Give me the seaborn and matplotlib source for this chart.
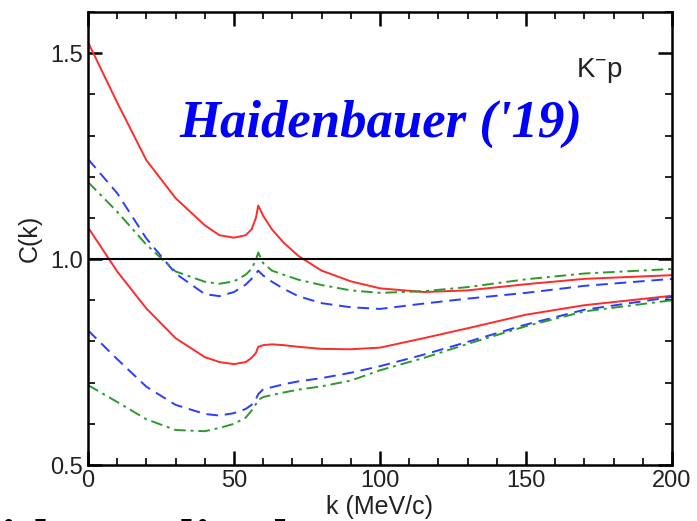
import matplotlib
matplotlib.use("Agg")
import matplotlib.pyplot as plt
import seaborn as sns
import pandas as pd
from matplotlib.ticker import MultipleLocator

sns.set_theme(style="white")
plt.rcParams['font.family'] = ['Liberation Sans', 'DejaVu Sans']
plt.rcParams['mathtext.default'] = 'regular'

k = [0, 10, 20, 30, 40, 45, 50, 54, 56, 57.5, 58.3, 60, 63, 67, 72, 80, 90, 100, 115, 130, 150, 170, 200]

upper_red = [1.527, 1.38, 1.24, 1.148, 1.082, 1.058, 1.052, 1.058, 1.072, 1.10, 1.13, 1.105, 1.072, 1.04, 1.008,
             0.972, 0.946, 0.929, 0.920, 0.924, 0.939, 0.952, 0.961]
upper_blue = [1.243, 1.16, 1.05, 0.965, 0.915, 0.910, 0.92, 0.938, 0.952, 0.965, 0.972, 0.96, 0.945, 0.928, 0.91,
              0.893, 0.883, 0.879, 0.892, 0.904, 0.918, 0.935, 0.952]
upper_green = [1.187, 1.115, 1.035, 0.97, 0.945, 0.940, 0.946, 0.962, 0.976, 0.998, 1.016, 0.99, 0.972, 0.962, 0.950,
               0.937, 0.924, 0.918, 0.922, 0.932, 0.951, 0.965, 0.976]
lower_red = [1.077, 0.97, 0.88, 0.808, 0.762, 0.750, 0.745, 0.750, 0.760, 0.772, 0.787, 0.791, 0.793, 0.791, 0.787,
             0.782, 0.781, 0.785, 0.808, 0.832, 0.865, 0.888, 0.911]
lower_blue = [0.827, 0.757, 0.69, 0.646, 0.624, 0.620, 0.626, 0.636, 0.646, 0.66, 0.672, 0.684, 0.689, 0.696, 0.703,
              0.711, 0.724, 0.740, 0.768, 0.799, 0.841, 0.877, 0.908]
lower_green = [0.694, 0.653, 0.611, 0.585, 0.582, 0.590, 0.600, 0.615, 0.632, 0.648, 0.658, 0.665, 0.670, 0.676, 0.683,
               0.691, 0.705, 0.730, 0.760, 0.794, 0.837, 0.873, 0.900]

RED = '#ff2a2a'
BLUE = '#2a3cff'
GREEN = '#2a9a2a'

series = [
    (upper_red, RED, '-'),
    (upper_blue, BLUE, (0, (6, 3.5))),
    (upper_green, GREEN, (0, (6, 2.5, 1.5, 2.5))),
    (lower_red, RED, '-'),
    (lower_blue, BLUE, (0, (6, 3.5))),
    (lower_green, GREEN, (0, (6, 2.5, 1.5, 2.5))),
]

fig = plt.figure(figsize=(6.97, 5.21), dpi=100)
ax = fig.add_axes([88 / 697, 56 / 521, (672 - 88) / 697, (465 - 12) / 521])

for ys, col, ls in series:
    df = pd.DataFrame({'k': k, 'C': ys})
    sns.lineplot(data=df, x='k', y='C', ax=ax, color=col, linewidth=1.4, linestyle=ls)

ax.axhline(1.0, color='black', linewidth=1.5)

ax.set_xlim(0, 200)
ax.set_ylim(0.5, 1.6)
ax.xaxis.set_major_locator(MultipleLocator(50))
ax.xaxis.set_minor_locator(MultipleLocator(10))
ax.yaxis.set_major_locator(MultipleLocator(0.5))
ax.yaxis.set_minor_locator(MultipleLocator(0.1))
ax.tick_params(which='both', direction='in', top=True, right=True, bottom=True, left=True,
               color='black', labelsize=17, labelcolor='#222222')
ax.tick_params(which='major', length=10, width=1.8)
ax.tick_params(which='minor', length=5, width=1.2)
ax.set_xticks([0, 50, 100, 150, 200])
ax.set_xticklabels(['0', '50', '100', '150', '200'])
ax.set_yticks([0.5, 1.0, 1.5])
ax.set_yticklabels(['0.5', '1.0', '1.5'])
for s in ax.spines.values():
    s.set_color('black')
    s.set_linewidth(1.8)

ax.set_xlabel('k (MeV/c)', fontsize=18, color='#222222', labelpad=2)
ax.set_ylabel('C(k)', fontsize=18, color='#222222', labelpad=6)

ax.text(600 / 697, (521 - 77) / 521, 'K$^{-}$p', transform=fig.transFigure, fontsize=20,
        color='#222222', ha='center', va='baseline')

fig.text(381 / 697, (521 - 137) / 521, "Haidenbauer ('19)", fontsize=38, color='#0000ff',
         family=['Liberation Serif', 'DejaVu Serif'], weight='bold', style='italic',
         ha='center', va='baseline')

fig.text(-38 / 697, -36 / 521, "with amplitude", fontsize=39, color='black',
         family=['Liberation Serif', 'DejaVu Serif'], weight='bold', ha='left', va='baseline')

fig.savefig('out.png', dpi=100)
